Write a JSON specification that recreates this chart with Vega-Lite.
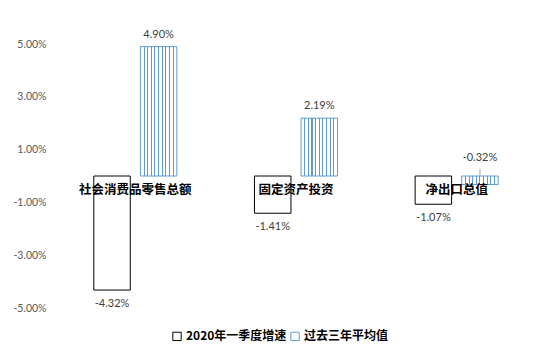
{
  "$schema": "https://vega.github.io/schema/vega-lite/v6.json",
  "width": 482,
  "height": 264,
  "autosize": {"type": "none"},
  "padding": {"left": 55, "top": 44, "right": 12, "bottom": 48},
  "background": "white",
  "config": {
    "view": {"stroke": null},
    "locale": {"number": {"decimal": ".", "thousands": ",", "grouping": [3], "currency": ["$", ""], "minus": "-"}}
  },
  "data": {
    "values": [
      {"category": "社会消费品零售总额", "series": "2020年一季度增速", "value": -0.0432},
      {"category": "社会消费品零售总额", "series": "过去三年平均值", "value": 0.049},
      {"category": "固定资产投资", "series": "2020年一季度增速", "value": -0.0141},
      {"category": "固定资产投资", "series": "过去三年平均值", "value": 0.0219},
      {"category": "净出口总值", "series": "2020年一季度增速", "value": -0.0107},
      {"category": "净出口总值", "series": "过去三年平均值", "value": -0.0032}
    ]
  },
  "encoding": {
    "x": {"field": "category", "type": "nominal", "sort": null, "axis": null,
      "scale": {"paddingInner": 0.483, "paddingOuter": 0.2415}},
    "y": {"field": "value", "type": "quantitative",
      "scale": {"domain": [-0.05, 0.05], "nice": false, "zero": false},
      "axis": {"values": [-0.05, -0.03, -0.01, 0.01, 0.03, 0.05], "format": ".2%", "title": null,
        "domain": false, "ticks": false, "grid": false, "labelPadding": 9,
        "labelFont": "Lato", "labelFontSize": 10.5, "labelColor": "#595959"}}
  },
  "layer": [
    {
      "mark": {"type": "rule", "color": "#D9D9D9", "strokeWidth": 1},
      "encoding": {"y": {"datum": 0}}
    },
    {
      "transform": [{"filter": "datum.series === '2020年一季度增速'"}],
      "mark": {"type": "bar", "fill": "white", "strokeWidth": 1},
      "encoding": {
        "xOffset": {"field": "series", "type": "nominal", "scale": {"domain": ["2020年一季度增速", "过去三年平均值"], "paddingInner": 0.217, "paddingOuter": 0}},
        "stroke": {"field": "series", "type": "nominal",
          "scale": {"domain": ["2020年一季度增速", "过去三年平均值"], "range": ["#000000", "#5B9BD5"]},
          "legend": {"title": null, "orient": "none", "legendX": 116, "legendY": 286, "direction": "horizontal",
            "symbolType": "square", "symbolSize": 70, "symbolFillColor": "white", "symbolStrokeWidth": 1,
            "labelFont": "Noto Sans CJK SC", "labelFontSize": 12, "labelFontWeight": "bold", "labelColor": "#000000",
            "labelOffset": 3, "columnPadding": 1}}
      }
    },
    {
      "transform": [{"filter": "datum.series === '过去三年平均值'"}],
      "mark": {"type": "bar", "strokeWidth": 1,
        "fill": {"gradient": "linear", "x1": 0, "y1": 0, "x2": 1, "y2": 0, "stops": [
          {"offset": 0, "color": "white"},
          {"offset": 0.086, "color": "white"}, {"offset": 0.086, "color": "#5B9BD5"}, {"offset": 0.114, "color": "#5B9BD5"}, {"offset": 0.114, "color": "white"},
          {"offset": 0.186, "color": "white"}, {"offset": 0.186, "color": "#5B9BD5"}, {"offset": 0.214, "color": "#5B9BD5"}, {"offset": 0.214, "color": "white"},
          {"offset": 0.286, "color": "white"}, {"offset": 0.286, "color": "#5B9BD5"}, {"offset": 0.314, "color": "#5B9BD5"}, {"offset": 0.314, "color": "white"},
          {"offset": 0.386, "color": "white"}, {"offset": 0.386, "color": "#5B9BD5"}, {"offset": 0.414, "color": "#5B9BD5"}, {"offset": 0.414, "color": "white"},
          {"offset": 0.486, "color": "white"}, {"offset": 0.486, "color": "#5B9BD5"}, {"offset": 0.514, "color": "#5B9BD5"}, {"offset": 0.514, "color": "white"},
          {"offset": 0.586, "color": "white"}, {"offset": 0.586, "color": "#5B9BD5"}, {"offset": 0.614, "color": "#5B9BD5"}, {"offset": 0.614, "color": "white"},
          {"offset": 0.686, "color": "white"}, {"offset": 0.686, "color": "#5B9BD5"}, {"offset": 0.714, "color": "#5B9BD5"}, {"offset": 0.714, "color": "white"},
          {"offset": 0.786, "color": "white"}, {"offset": 0.786, "color": "#5B9BD5"}, {"offset": 0.814, "color": "#5B9BD5"}, {"offset": 0.814, "color": "white"},
          {"offset": 0.886, "color": "white"}, {"offset": 0.886, "color": "#5B9BD5"}, {"offset": 0.914, "color": "#5B9BD5"}, {"offset": 0.914, "color": "white"},
          {"offset": 1, "color": "white"}
        ]}},
      "encoding": {
        "xOffset": {"field": "series", "type": "nominal", "scale": {"domain": ["2020年一季度增速", "过去三年平均值"], "paddingInner": 0.217, "paddingOuter": 0}},
        "stroke": {"field": "series", "type": "nominal"}
      }
    },
    {
      "transform": [{"filter": "datum.series === '过去三年平均值' && datum.value < 0"}],
      "mark": {"type": "rule", "color": "#A6A6A6", "strokeWidth": 1},
      "encoding": {
        "xOffset": {"field": "series", "type": "nominal", "scale": {"domain": ["2020年一季度增速", "过去三年平均值"], "paddingInner": 0.217, "paddingOuter": 0}},
        "y": {"datum": 0.0026},
        "y2": {"datum": 0}
      }
    },
    {
      "transform": [{"filter": "datum.series === '2020年一季度增速'"}],
      "mark": {"type": "text", "dy": 14, "baseline": "middle", "font": "Lato", "fontSize": 11, "color": "#404040"},
      "encoding": {
        "xOffset": {"field": "series", "type": "nominal", "scale": {"domain": ["2020年一季度增速", "过去三年平均值"], "paddingInner": 0.217, "paddingOuter": 0}},
        "text": {"field": "value", "type": "quantitative", "format": ".2%"}
      }
    },
    {
      "transform": [{"filter": "datum.series === '过去三年平均值' && datum.value >= 0"}],
      "mark": {"type": "text", "dy": -12, "baseline": "middle", "font": "Lato", "fontSize": 11, "color": "#404040"},
      "encoding": {
        "xOffset": {"field": "series", "type": "nominal", "scale": {"domain": ["2020年一季度增速", "过去三年平均值"], "paddingInner": 0.217, "paddingOuter": 0}},
        "text": {"field": "value", "type": "quantitative", "format": ".2%"}
      }
    },
    {
      "transform": [{"filter": "datum.series === '过去三年平均值' && datum.value < 0"}],
      "mark": {"type": "text", "dy": -26, "baseline": "middle", "font": "Lato", "fontSize": 11, "color": "#404040"},
      "encoding": {
        "xOffset": {"field": "series", "type": "nominal", "scale": {"domain": ["2020年一季度增速", "过去三年平均值"], "paddingInner": 0.217, "paddingOuter": 0}},
        "text": {"field": "value", "type": "quantitative", "format": ".2%"}
      }
    },
    {
      "transform": [{"filter": "datum.series === '2020年一季度增速'"}],
      "mark": {"type": "text", "dy": 14, "baseline": "middle", "font": "Noto Sans CJK SC", "fontSize": 12.5, "fontWeight": "bold", "color": "#000000"},
      "encoding": {
        "y": {"datum": 0},
        "text": {"field": "category", "type": "nominal"}
      }
    }
  ]
}
